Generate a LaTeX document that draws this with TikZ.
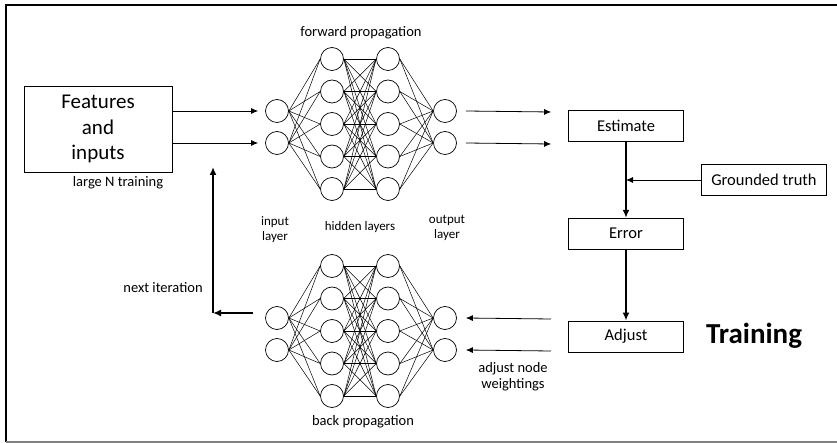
\documentclass[tikz,border=0pt]{standalone}
\usepackage{fontspec}
\setmainfont{Carlito}
\usetikzlibrary{arrows.meta,positioning,calc}

\begin{document}
\begin{tikzpicture}[x=1pt, y=-1pt,
    neuron/.style={draw, circle, minimum size=23pt, inner sep=0pt, line width=0.7pt},
    stage/.style={draw, rectangle, minimum width=115pt, minimum height=31pt, line width=0.7pt,
      font=\fontsize{16.5}{18}\selectfont},
    lbl/.style={font=\fontsize{14.5}{16}\selectfont, align=center},
    layerlbl/.style={font=\fontsize{13}{15}\selectfont, align=center},
    link/.style={line width=0.5pt},
    flow/.style={-{Latex[length=7pt,width=6pt]}, line width=0.8pt},
    bigflow/.style={-{Latex[length=8pt,width=7pt]}, line width=2.2pt}]
    \useasboundingbox (0,0) rectangle (837,443);

    % Frame
    \draw[line width=2pt] (837,5) -- (6,5) -- (6,442);
    \draw[gray, line width=1.2pt] (6,442) -- (837,442);

    % Networks: forward (top) and back (bottom)
    \foreach \net/\dy in {f/0, b/207} {
        \foreach \i/\y in {1/111, 2/143} {
            \node[neuron] (in-\net-\i) at (277,\y+\dy) {};
            \node[neuron] (out-\net-\i) at (445,\y+\dy) {};
        }
        \foreach \j in {1,...,5} {
            \node[neuron] (ha-\net-\j) at (332,59+32.5*\j-32.5+\dy) {};
            \node[neuron] (hb-\net-\j) at (388,59+32.5*\j-32.5+\dy) {};
        }
        \foreach \i in {1,2} \foreach \j in {1,...,5} {
            \draw[link] (in-\net-\i.east) -- (ha-\net-\j.west);
            \draw[link] (hb-\net-\j.east) -- (out-\net-\i.west);
        }
        \foreach \j in {1,...,5} \foreach \k in {1,...,5}
            \draw[link] (ha-\net-\j.east) -- (hb-\net-\k.west);
    }

    % Labels of the networks
    \node[lbl] (fwd) at (361,33) {forward propagation};
    \node[lbl] (bwd) at (363,422) {back propagation};
    \node[layerlbl] (inlbl) at (275,230) {input\\layer};
    \node[layerlbl] (hidlbl) at (360,227) {hidden layers};
    \node[layerlbl] (outlbl) at (447,228) {output\\layer};

    % Inputs
    \node[draw, line width=0.7pt, minimum width=148pt, minimum height=86pt, align=center,
        font=\fontsize{21}{25.5}\selectfont] (feat) at (98,129) {Features\\and\\inputs};
    \node[lbl] (large) at (118,183) {large N training};
    \foreach \i in {1,2}
        \draw[flow] (feat.east |- in-f-\i) -- ([xshift=-7pt]in-f-\i.west);

    % Training loop
    \node[stage] (est) at (626,126) {Estimate};
    \node[stage, below=76pt of est] (err) {Error};
    \node[stage, below=71pt of err] (adj) {Adjust};
    \node[draw, line width=0.7pt, minimum height=31pt, inner xsep=10pt,
        font=\fontsize{16.5}{18}\selectfont] (truth) at (764,180) {Grounded truth};
    \node[font=\fontsize{29}{32}\bfseries] (train) at (754,336) {Training};

    \foreach \i in {1,2} {
        \draw[flow] ([xshift=9pt]out-f-\i.east) -- ($(est.west |- out-f-\i)+(-17,1)$);
        \draw[flow] ($(adj.west |- out-b-\i)+(-17,1)$) -- ([xshift=9pt]out-b-\i.east);
    }
    \draw[flow] (truth.west) -- (est.south |- truth.west);
    \draw[bigflow] (est) -- (err);
    \draw[bigflow] (err) -- (adj);
    \node[lbl] (weights) at (513,377) {adjust node\\weightings};

    % Next iteration
    \coordinate (start) at ($(in-b-1.west)+(-12,-5)$);
    \coordinate (turn) at (213,313);
    \coordinate (back) at (213,167);
    \draw[bigflow] (start) -- (turn);
    \draw[bigflow] (turn) -- (back);
    \node[lbl] (next) at (163,288) {next iteration};
\end{tikzpicture}
\end{document}
